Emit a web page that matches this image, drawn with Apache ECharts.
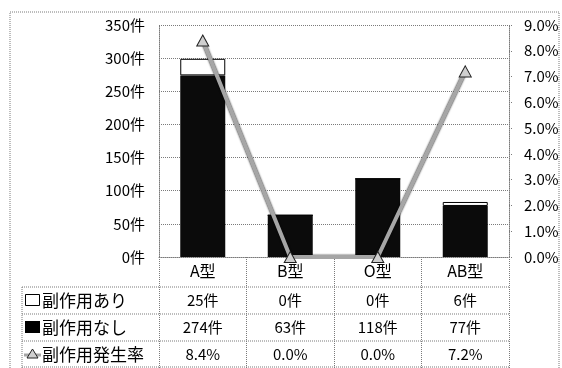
<!DOCTYPE html>
<html>
<head>
<meta charset="utf-8">
<script src="https://cdn.jsdelivr.net/npm/echarts@6/dist/echarts.min.js"></script>
<style>
  html, body { margin: 0; padding: 0; background: #fff; }
  #chart { width: 562px; height: 368px; }
</style>
</head>
<body>
<div id="chart"></div>
<script>
// Blood types and side-effect counts
const bloodTypes = ['A型', 'B型', 'O型', 'AB型'];
const withSideEffect = [25, 0, 0, 6];        // 副作用あり (件)
const withoutSideEffect = [274, 63, 118, 77]; // 副作用なし (件)
const sideEffectRate = [8.4, 0.0, 0.0, 7.2];  // 副作用発生率 (%)

const countTicks = { min: 0, max: 350, interval: 50 };
const rateTicks = { min: 0, max: 9, interval: 1 };

const FONT = '"Noto Sans CJK JP", "Noto Sans", sans-serif';
const DOT = { color: '#7a7a7a', width: 1, type: [1, 1] };

const chart = echarts.init(document.getElementById('chart'), null, { renderer: 'canvas' });

// Extra category axes below the plot carry the data-table rows
function tableRowAxis(values, offset) {
  return {
    type: 'category',
    data: values,
    position: 'bottom',
    offset: offset,
    axisLine: { show: false },
    axisTick: { show: false },
    axisLabel: { interval: 0, margin: 6, fontSize: 15, color: '#000', fontFamily: FONT }
  };
}

const option = {
  animation: false,
  textStyle: { fontFamily: FONT },
  grid: { left: 159, right: 53, top: 25, bottom: 111, containLabel: false },
  xAxis: [
    {
      type: 'category',
      data: bloodTypes,
      position: 'bottom',
      axisLine: { show: true, lineStyle: DOT },
      axisTick: { show: true, interval: 0, length: 111, lineStyle: DOT },
      axisLabel: { interval: 0, margin: 6, fontSize: 16, color: '#000', fontFamily: FONT }
    },
    tableRowAxis(withSideEffect.map(v => v + '件'), 30),
    tableRowAxis(withoutSideEffect.map(v => v + '件'), 57),
    tableRowAxis(sideEffectRate.map(v => v.toFixed(1) + '%'), 84)
  ],
  yAxis: [
    {
      type: 'value',
      min: countTicks.min, max: countTicks.max, interval: countTicks.interval,
      axisLine: { show: true, lineStyle: DOT },
      axisTick: { show: false },
      splitLine: { show: true, lineStyle: DOT },
      axisLabel: { margin: 14, fontSize: 15, color: '#000', fontFamily: FONT, formatter: '{value}件' }
    },
    {
      type: 'value',
      position: 'right',
      min: rateTicks.min, max: rateTicks.max, interval: rateTicks.interval,
      axisLine: { show: true, lineStyle: DOT },
      axisTick: { show: true, length: 4, lineStyle: DOT },
      splitLine: { show: false },
      axisLabel: { margin: 15, fontSize: 15, color: '#000', fontFamily: FONT,
        formatter: v => v.toFixed(1) + '%' }
    }
  ],
  series: [
    {
      name: '副作用なし',
      type: 'bar',
      stack: 'total',
      data: withoutSideEffect,
      barWidth: 45,
      itemStyle: { color: '#0b0b0b' }
    },
    {
      name: '副作用あり',
      type: 'bar',
      stack: 'total',
      data: withSideEffect,
      barWidth: 45,
      itemStyle: { color: '#ffffff', borderColor: '#000', borderWidth: 1 }
    },
    {
      name: '副作用発生率',
      type: 'line',
      yAxisIndex: 1,
      data: sideEffectRate,
      z: 5,
      symbol: 'triangle',
      symbolSize: [12, 11],
      itemStyle: { color: '#cfcfcf', borderColor: '#222', borderWidth: 1 },
      lineStyle: { color: '#a6a6a6', width: 4, shadowColor: 'rgba(0,0,0,0.9)', shadowBlur: 2 }
    }
  ],
  graphic: [
    // outer frame
    { type: 'rect', shape: { x: 10, y: 12, width: 549, height: 380 }, silent: true,
      style: { fill: 'none', stroke: '#7a7a7a', lineWidth: 1, lineDash: [1, 1] } },
    // data-table rules
    ...[287, 314, 341, 367].map(y => ({
      type: 'line', shape: { x1: 22, y1: y, x2: 509, y2: y }, silent: true,
      style: { stroke: '#7a7a7a', lineWidth: 1, lineDash: [1, 1] }
    })),
    { type: 'line', shape: { x1: 22, y1: 287, x2: 22, y2: 368 }, silent: true,
      style: { stroke: '#7a7a7a', lineWidth: 1, lineDash: [1, 1] } },
    // row headers with legend keys
    { type: 'rect', shape: { x: 25.5, y: 294.5, width: 14, height: 11 },
      style: { fill: '#fff', stroke: '#000', lineWidth: 1 } },
    { type: 'text', x: 42, y: 300.5, style: { text: '副作用あり', font: '17px ' + FONT,
      fill: '#000', verticalAlign: 'middle' } },
    { type: 'rect', shape: { x: 25, y: 321, width: 15, height: 12 },
      style: { fill: '#000' } },
    { type: 'text', x: 42, y: 327.5, style: { text: '副作用なし', font: '17px ' + FONT,
      fill: '#000', verticalAlign: 'middle' } },
    { type: 'line', shape: { x1: 24, y1: 355, x2: 41, y2: 355 },
      style: { stroke: '#a6a6a6', lineWidth: 3 } },
    { type: 'polygon', shape: { points: [[32.5, 349], [38, 358], [27, 358]] },
      style: { fill: '#cfcfcf', stroke: '#222', lineWidth: 1 } },
    { type: 'text', x: 42, y: 354.5, style: { text: '副作用発生率', font: '17px ' + FONT,
      fill: '#000', verticalAlign: 'middle' } }
  ]
};

chart.setOption(option);
</script>
</body>
</html>
